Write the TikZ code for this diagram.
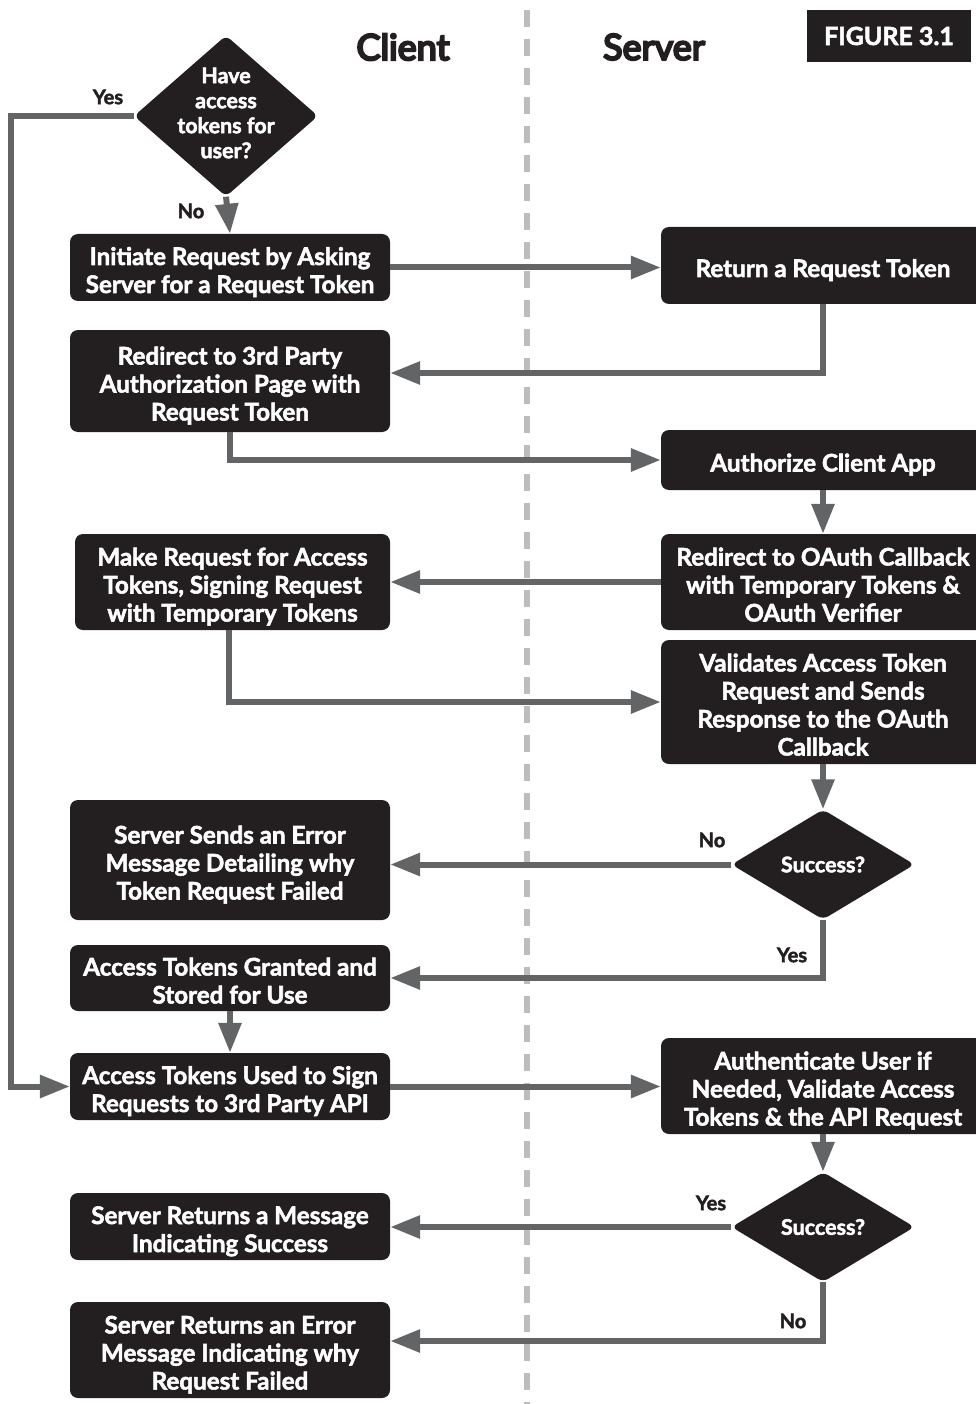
\documentclass[tikz,border=0pt]{standalone}
\usepackage{fontspec}
\setmainfont{Lato}[BoldFeatures={FakeBold=2.2}]
\newfontfamily\headfont{Lato}[FakeBold=6]
\usetikzlibrary{shapes.geometric,arrows.meta,calc}
\definecolor{boxfill}{HTML}{231F20}
\definecolor{linkgray}{HTML}{636466}
\definecolor{dashgray}{HTML}{BDBDBD}
\newcommand\mytop{\rule{0pt}{28pt}}
\newcommand\mybot{\rule[-5pt]{0pt}{0pt}}
\begin{document}
\begin{tikzpicture}[x=1pt,y=-1pt,
 box/.style={rectangle, rounded corners=8pt, fill=boxfill, text=white, font=\fontsize{24.2}{28}\selectfont\bfseries, align=center, inner sep=0pt},
 dec/.style={diamond, rounded corners=6pt, fill=boxfill, inner sep=0pt},
 dtext/.style={text=white, font=\fontsize{21.5}{25}\selectfont\bfseries, align=center},
 link/.style={line width=6pt, draw=linkgray, -{Triangle[length=30pt,width=22pt]}},
 lab/.style={font=\fontsize{20}{22}\selectfont\bfseries, text=boxfill},
 head/.style={font=\fontsize{36}{37}\selectfont\headfont, text=boxfill},
]
\useasboundingbox (0,0) rectangle (976,1404);
\clip (0,0) rectangle (976,1404);
\draw[dashgray, line width=6pt, dash pattern=on 17pt off 12pt] (527,10) -- (527,1404);

\node[head] (hc) at (403,47) {Client};
\node[head] (hs) at (654,47) {Server};
\node[fill=boxfill, text=white, minimum width=164pt, minimum height=52pt, inner sep=0pt, font=\fontsize{25}{26}\selectfont\bfseries] (fig) at (889,36) {FIGURE 3.1};

\node[dec, minimum width=184pt, minimum height=161pt] (d1) at (226,116) {};
\node[dtext] (d1t) at (226,113) {Have\\access\\tokens for\\user?};

\node[box, minimum width=320pt, minimum height=67pt] (b1) at (230,267.5) {\mytop Initiate Request by Asking\\Server for a Request Token\mybot};
\node[box, minimum width=324pt, minimum height=77pt] (b2) at (823,265.5) {\mytop Return a Request Token\mybot};
\node[box, minimum width=320pt, minimum height=102pt] (b3) at (230,381) {\mytop Redirect to 3rd Party\\Authorization Page with\\Request Token\mybot};
\node[box, minimum width=324pt, minimum height=60pt] (b4) at (823,460) {\mytop Authorize Client App\mybot};
\node[box, minimum width=324pt, minimum height=96pt] (b5) at (823,582) {\mytop Redirect to OAuth Callback\\with Temporary Tokens \&\\OAuth Verifier\mybot};
\node[box, minimum width=315pt, minimum height=96pt] (b6) at (232.5,582) {\mytop Make Request for Access\\Tokens, Signing Request\\with Temporary Tokens\mybot};
\node[box, minimum width=324pt, minimum height=124pt] (b7) at (823,702) {\mytop Validates Access Token\\Request and Sends\\Response to the OAuth\\Callback\mybot};
\node[dec, minimum width=183pt, minimum height=110pt] (d2) at (823,864.5) {};
\node[dtext] (d2t) at (823,864.5) {Success?};
\node[box, minimum width=320pt, minimum height=120pt] (b8) at (230,860) {\mytop Server Sends an Error\\Message Detailing why\\Token Request Failed\mybot};
\node[box, minimum width=320pt, minimum height=66pt] (b9) at (230,978) {\mytop Access Tokens Granted and\\Stored for Use\mybot};
\node[box, minimum width=320pt, minimum height=67pt] (b10) at (230,1086.5) {\mytop Access Tokens Used to Sign\\Requests to 3rd Party API\mybot};
\node[box, minimum width=324pt, minimum height=96pt] (b11) at (823,1086) {\mytop Authenticate User if\\Needed, Validate Access\\Tokens \& the API Request\mybot};
\node[dec, minimum width=183pt, minimum height=110pt] (d3) at (823,1227) {};
\node[dtext] (d3t) at (823,1227) {Success?};
\node[box, minimum width=320pt, minimum height=67pt] (b12) at (230,1226.5) {\mytop Server Returns a Message\\Indicating Success\mybot};
\node[box, minimum width=320pt, minimum height=96pt] (b13) at (230,1350) {\mytop Server Returns an Error\\Message Indicating why\\Request Failed\mybot};

\node[lab] (l1) at (108,97) {Yes};
\node[lab] (l2) at (191,211) {No};
\node[lab] (l3) at (712,840) {No};
\node[lab] (l4) at (792,955) {Yes};
\node[lab] (l5) at (711,1203) {Yes};
\node[lab] (l6) at (793,1321) {No};

\draw[link] (d1.west) -- ++(-123,0) |- (b10.west);
\draw[link] (d1.south) -- (b1.north);
\draw[link] (b1.east) -- (b1.east -| b2.west);
\draw[link] (b2.south) |- ($(b3.east)+(0,-8)$);
\draw[link] (b3.south) |- (b4.west);
\draw[link] (b4.south) -- (b5.north);
\draw[link] (b5.west) -- (b5.west -| b6.east);
\draw[link] ($(b6.south)+(-4,0)$) |- (b7.west);
\draw[link] (b7.south) -- (d2.north);
\draw[link] (d2.west) -- (d2.west -| b8.east);
\draw[link] (d2.south) |- (b9.east);
\draw[link] (b9.south) -- (b10.north);
\draw[link] (b10.east) -- (b10.east -| b11.west);
\draw[link] (b11.south) -- (d3.north);
\draw[link] (d3.west) -- (d3.west -| b12.east);
\draw[link] (d3.south) |- ($(b13.east)+(0,-9)$);
\end{tikzpicture}
\end{document}
